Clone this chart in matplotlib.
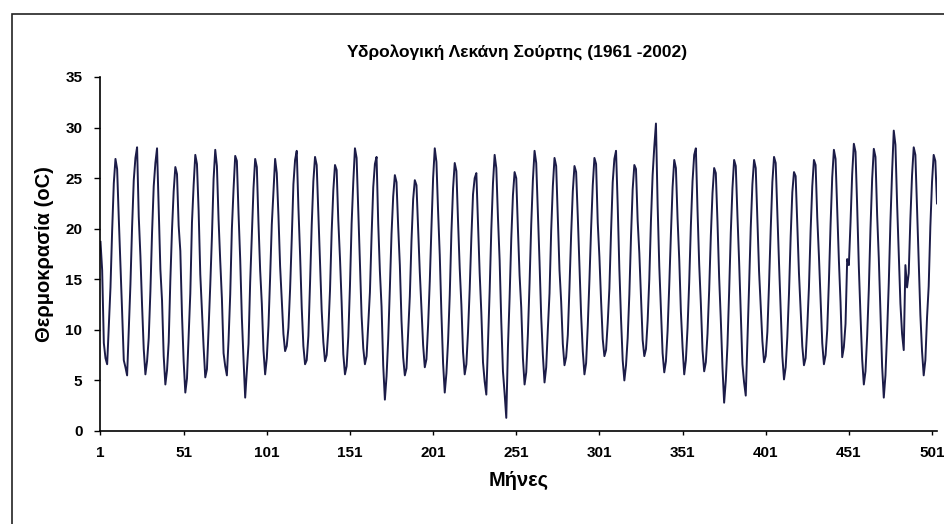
import numpy as np
import matplotlib
matplotlib.use('Agg')
import matplotlib.pyplot as plt
from matplotlib.patches import Rectangle

# Μηνιαίες θερμοκρασίες (υδρολογικό έτος Οκτ-Σεπ), εκτίμηση από το γράφημα
t_1961_1970 = [
    18.7, 15.9, 8.7, 7.2, 6.6, 10.3, 14.2, 19.8, 24.5, 26.9, 25.9, 21.0,
    16.5, 11.8, 7.0, 6.3, 5.5, 9.9, 14.5, 20.2, 24.8, 27.0, 28.05, 21.2,
    17.3, 12.4, 8.1, 5.6, 6.9, 9.2, 13.8, 19.6, 24.2, 26.5, 27.95, 22.0,
    16.0, 12.9, 7.4, 4.6, 6.0, 8.8, 14.9, 19.9, 23.7, 26.1, 25.4, 20.3,
    17.8, 11.5, 6.9, 3.8, 5.2, 9.5, 13.6, 20.6, 24.3, 27.3, 26.4, 21.8,
    15.5, 12.0, 8.3, 5.3, 6.1, 10.1, 14.4, 19.2, 24.9, 27.8, 26.2, 20.9,
    16.8, 13.1, 7.7, 6.4, 5.5, 9.0, 13.5, 20.0, 23.9, 27.2, 26.7, 21.5,
    17.0, 11.2, 7.1, 3.3, 5.9, 8.6, 14.7, 19.4, 24.0, 26.9, 26.1, 20.6,
    15.9, 12.6, 8.0, 5.6, 7.2, 10.4, 15.2, 20.4, 23.6, 26.9, 25.5, 21.3,
    16.3, 13.0, 9.6, 7.9, 8.4, 10.2, 14.0, 19.0, 24.4, 26.8, 27.7, 22.1,
]
t_1971_1980 = [
    17.5, 12.2, 8.4, 6.6, 7.0, 9.4, 14.6, 20.3, 24.7, 27.1, 26.3, 21.4,
    16.2, 11.9, 8.8, 6.9, 7.5, 10.0, 13.9, 19.7, 23.8, 26.3, 25.8, 20.8,
    17.1, 12.7, 7.6, 5.6, 6.4, 9.3, 14.3, 20.5, 24.6, 27.95, 27.0, 21.9,
    16.6, 11.4, 8.2, 6.6, 7.4, 10.6, 13.7, 19.3, 24.1, 26.4, 27.1, 20.5,
    15.8, 12.3, 6.5, 3.1, 5.4, 9.1, 14.1, 19.5, 23.2, 25.3, 24.6, 20.2,
    16.4, 10.9, 7.3, 5.5, 6.2, 9.7, 13.3, 18.8, 22.9, 24.8, 24.3, 19.9,
    15.7, 12.1, 8.5, 6.3, 7.1, 10.5, 14.8, 20.1, 25.0, 27.95, 26.6, 21.7,
    17.4, 11.6, 6.7, 3.8, 5.7, 8.9, 13.4, 19.6, 24.0, 26.5, 25.7, 20.7,
    16.1, 12.5, 7.8, 5.6, 6.6, 9.8, 14.0, 19.1, 23.4, 25.0, 25.5, 20.4,
    15.6, 11.7, 6.8, 4.9, 3.6, 8.7, 13.8, 19.9, 24.5, 27.3, 26.0, 21.1,
]
t_1981_1990 = [
    16.9, 10.8, 5.9, 3.7, 1.3, 8.3, 13.2, 19.0, 23.3, 25.6, 25.0, 20.0,
    15.4, 12.2, 7.2, 4.6, 5.8, 9.6, 14.6, 20.4, 24.8, 27.7, 26.5, 21.6,
    16.7, 11.3, 7.5, 4.8, 6.3, 10.1, 13.6, 19.8, 24.2, 27.0, 26.2, 20.9,
    15.9, 12.8, 8.6, 6.5, 7.3, 9.5, 14.2, 19.4, 23.7, 26.2, 25.6, 21.2,
    16.4, 11.5, 7.9, 5.6, 6.7, 10.4, 14.9, 20.0, 24.3, 27.0, 26.4, 20.6,
    17.2, 12.9, 9.1, 7.4, 8.0, 10.7, 14.1, 19.7, 24.6, 26.9, 27.7, 22.3,
    16.0, 11.1, 7.0, 5.0, 6.5, 9.2, 13.5, 19.2, 23.9, 26.3, 25.9, 20.8,
    17.6, 13.2, 9.0, 7.4, 8.1, 10.9, 15.0, 20.8, 25.3, 28.1, 30.4, 22.4,
    16.3, 12.0, 7.7, 5.8, 6.9, 9.9, 14.4, 19.5, 24.1, 26.8, 26.0, 21.0,
    17.0, 11.8, 8.3, 5.6, 7.0, 10.2, 14.7, 20.3, 24.7, 27.3, 27.95, 21.8,
]
t_1991_2000 = [
    16.5, 12.6, 8.0, 5.9, 6.8, 9.6, 13.9, 19.3, 23.5, 26.0, 25.5, 20.7,
    15.2, 11.0, 6.3, 2.8, 5.0, 8.5, 13.7, 19.6, 24.0, 26.8, 26.2, 21.3,
    16.8, 11.6, 6.6, 4.8, 3.5, 8.9, 14.3, 20.1, 24.4, 26.8, 26.0, 20.9,
    15.8, 12.4, 8.9, 6.8, 7.4, 9.8, 14.5, 19.9, 24.6, 27.1, 26.5, 21.5,
    16.6, 11.9, 7.4, 5.1, 6.3, 9.3, 13.6, 19.2, 23.6, 25.6, 25.2, 20.5,
    15.6, 12.1, 8.4, 6.5, 7.2, 10.3, 14.2, 19.8, 24.2, 26.8, 26.3, 21.1,
    17.3, 13.0, 8.7, 6.6, 7.5, 10.0, 14.8, 20.4, 25.1, 27.8, 26.9, 22.0,
    16.9, 12.7, 7.3, 8.3, 10.6, 17.0, 16.4, 20.6, 25.4, 28.4, 27.6, 22.2,
    16.2, 11.4, 7.1, 4.6, 5.9, 9.4, 14.0, 20.0, 24.9, 27.9, 27.1, 21.4,
    17.1, 11.8, 6.4, 3.3, 5.5, 9.7, 14.6, 20.7, 25.6, 29.7, 28.3, 22.5,
]
t_2001_2002 = [
    17.4, 12.6, 9.6, 8.0, 16.4, 14.2, 15.6, 21.0, 25.3, 28.05, 27.3, 22.0,
    16.8, 11.5, 7.9, 5.5, 7.0, 11.2, 14.3, 20.2, 24.6, 27.3, 26.7, 22.5,
]

temperature = np.array(t_1961_1970 + t_1971_1980 + t_1981_1990 + t_1991_2000 + t_2001_2002)
months = np.arange(1, len(temperature) + 1)
x_ticks = list(range(1, 502, 50))
y_ticks = list(range(0, 36, 5))

title = 'Υδρολογική Λεκάνη Σούρτης (1961 -2002)'
xlabel = 'Μήνες'
ylabel = 'Θερμοκρασία (oC)'

plt.rcParams['font.family'] = ['Liberation Sans', 'DejaVu Sans']

fig = plt.figure(figsize=(9.45, 5.24), dpi=100)
ax = fig.add_axes([100.5 / 945, 1 - 431 / 524, (937 - 100.5) / 945, (431 - 77) / 524])

ax.plot(months, temperature, color='#1c1c48', linewidth=1.4)

ax.set_xlim(1, len(temperature))
ax.set_ylim(0, 35)
ax.set_xticks(x_ticks)
ax.set_yticks(y_ticks)
ax.set_xticklabels([str(t) for t in x_ticks], fontsize=11, fontweight='bold',
                   family=['Liberation Sans Narrow', 'Liberation Sans'])
ax.set_yticklabels([str(t) for t in y_ticks], fontsize=11, fontweight='bold')
ax.tick_params(axis='y', direction='out', length=4, width=1, pad=9)
ax.tick_params(axis='x', direction='out', length=3, width=1, pad=8)

for s in ['top', 'right']:
    ax.spines[s].set_visible(False)
for s in ['left', 'bottom']:
    ax.spines[s].set_linewidth(1.2)

ax.set_xlabel(xlabel, fontsize=14.5, fontweight='bold', labelpad=8)
ax.set_ylabel(ylabel, fontsize=14.5, fontweight='bold', labelpad=8)
fig.text(517 / 945, 1 - 52 / 524, title, ha='center', va='center',
         fontsize=12.5, fontweight='bold')

# Πλαίσιο γραφήματος (όπως στο Excel)
fig.patches.append(Rectangle((11.5 / 945, -0.1), 1.1, 1.1 - 14 / 524,
                             transform=fig.transFigure, fill=False,
                             edgecolor='#222222', linewidth=1.2))

fig.savefig('out.png', dpi=100)
